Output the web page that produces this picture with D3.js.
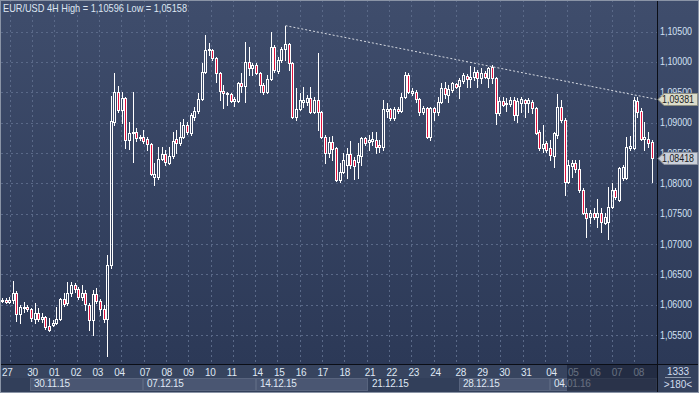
<!DOCTYPE html>
<html><head><meta charset="utf-8">
<script src="https://cdn.jsdelivr.net/npm/d3@7"></script>
<style>
html,body{margin:0;padding:0;background:#2f3c58;overflow:hidden}
svg{display:block}
text{font-family:"Liberation Sans",Arial,sans-serif}
</style>
</head><body>
<svg id="c" width="699" height="393"></svg>
<script>
// ---- data (EUR/USD 4H, 27.11.2015 - 08.01.2016) ----
const opens=[
1.0607,1.0608,1.0604,1.0608,1.0619,1.0585,1.0594,1.0596,1.0593,1.0576,
1.0586,1.0576,1.0579,1.0565,1.0567,1.0570,1.0576,1.0609,1.0603,1.0619,
1.0633,1.0626,1.0613,1.0619,1.0600,1.0575,1.0618,1.0606,1.0593,1.0576,
1.0665,1.0901,1.0950,1.0921,1.0940,1.0871,1.0883,1.0885,1.0875,1.0876,
1.0873,1.0865,1.0810,1.0810,1.0840,1.0848,1.0833,1.0845,1.0873,1.0866,
1.0876,1.0896,1.0883,1.0909,1.0919,1.0939,1.0983,1.1021,1.1020,1.1006,
1.0982,1.0952,1.0947,1.0947,1.0936,1.0936,1.0965,1.0960,1.1000,1.0990,
1.0995,1.0982,1.0962,1.0950,1.0972,1.1024,1.0985,1.1003,1.1021,1.1029,
1.0998,1.0909,1.0922,1.0934,1.0934,1.0940,1.0917,1.0937,1.0917,1.0876,
1.0850,1.0868,1.0858,1.0805,1.0819,1.0830,1.0848,1.0838,1.0835,1.0845,
1.0875,1.0868,1.0870,1.0871,1.0863,1.0860,1.0919,1.0922,1.0908,1.0922,
1.0919,1.0942,1.0978,1.0949,1.0950,1.0939,1.0917,1.0924,1.0876,1.0924,
1.0917,1.0934,1.0957,1.0945,1.0954,1.0964,1.0960,1.0969,1.0977,1.0972,
1.0975,1.0983,1.0973,1.0982,1.0973,1.0992,1.0973,1.0916,1.0936,1.0931,
1.0931,1.0937,1.0912,1.0932,1.0937,1.0932,1.0934,1.0924,1.0885,1.0858,
1.0866,1.0858,1.0845,1.0880,1.0926,1.0904,1.0802,1.0828,1.0833,1.0824,
1.0789,1.0751,1.0744,1.0751,1.0744,1.0751,1.0735,1.0736,1.0761,1.0789,
1.0772,1.0809,1.0809,1.0858,1.0858,1.0936,1.0919,1.0873,1.0873,1.0868];
const highs=[
1.0611,1.0611,1.0613,1.0639,1.0623,1.0600,1.0604,1.0600,1.0595,1.0603,
1.0595,1.0586,1.0582,1.0578,1.0575,1.0596,1.0611,1.0619,1.0637,1.0637,
1.0636,1.0629,1.0633,1.0624,1.0603,1.0624,1.0628,1.0609,1.0600,1.0682,
1.0944,1.0982,1.0960,1.0950,1.0942,1.0901,1.0950,1.0891,1.0880,1.0888,
1.0876,1.0866,1.0833,1.0860,1.0860,1.0855,1.0860,1.0885,1.0888,1.0901,
1.0906,1.0901,1.0916,1.0926,1.0949,1.0998,1.1044,1.1031,1.1021,1.1008,
1.0983,1.0962,1.0950,1.0949,1.0942,1.0967,1.0982,1.1033,1.1024,1.0998,
1.0998,1.0983,1.0965,1.0978,1.1049,1.1028,1.1008,1.1024,1.10596,1.1031,
1.1000,1.0957,1.0949,1.0959,1.0945,1.0959,1.0942,1.1015,1.0919,1.0880,
1.0876,1.0878,1.0860,1.0833,1.0850,1.0858,1.0870,1.0843,1.0866,1.0876,
1.0876,1.0880,1.0885,1.0885,1.0871,1.0937,1.0932,1.0924,1.0926,1.0926,
1.0949,1.0983,1.0982,1.0957,1.0954,1.0940,1.0927,1.0926,1.0926,1.0926,
1.0942,1.0965,1.0967,1.0962,1.0967,1.0965,1.0973,1.0982,1.0980,1.0993,
1.0992,1.0987,1.0990,1.0985,1.0992,1.0995,1.0975,1.0942,1.0942,1.0940,
1.0942,1.0942,1.0940,1.0942,1.0939,1.0940,1.0937,1.0926,1.0888,1.0896,
1.0870,1.0871,1.0885,1.0947,1.0937,1.0908,1.0838,1.0838,1.0838,1.0838,
1.0792,1.0759,1.0756,1.0759,1.0774,1.0759,1.0751,1.0794,1.0800,1.0792,
1.0827,1.0830,1.0876,1.0878,1.0942,1.0942,1.0924,1.0901,1.0885,1.0871];
const lows=[
1.0604,1.0603,1.0603,1.0603,1.0573,1.0570,1.0588,1.0590,1.0573,1.0570,
1.0573,1.0572,1.0560,1.0557,1.0565,1.0568,1.0575,1.0598,1.0600,1.0614,
1.0621,1.0609,1.0608,1.0591,1.0558,1.0550,1.0603,1.0583,1.0572,1.05158,
1.0660,1.0896,1.0917,1.0899,1.0858,1.0856,1.0835,1.0870,1.0871,1.0866,
1.0855,1.0814,1.0797,1.0807,1.0838,1.0830,1.0832,1.0842,1.0850,1.0863,
1.0875,1.0881,1.0880,1.0904,1.0916,1.0937,1.0982,1.1011,1.1003,1.0967,
1.0937,1.0924,1.0929,1.0934,1.0927,1.0934,1.0950,1.0934,1.0978,1.0978,
1.0980,1.0950,1.0947,1.0949,1.0970,1.0983,1.0982,1.1000,1.1003,1.0987,
1.0908,1.0904,1.0921,1.0926,1.0929,1.0916,1.0916,1.0888,1.0875,1.0833,
1.0843,1.0838,1.0804,1.0802,1.0817,1.0809,1.0825,1.0807,1.0809,1.0830,
1.0863,1.0855,1.0863,1.0850,1.0852,1.0855,1.0909,1.0904,1.0904,1.0916,
1.0917,1.0940,1.0949,1.0945,1.0934,1.0912,1.0914,1.0875,1.0871,1.0904,
1.0912,1.0932,1.0940,1.0934,1.0950,1.0957,1.0940,1.0965,1.0959,1.0959,
1.0970,1.0959,1.0965,1.0973,1.0959,1.0965,1.0898,1.0912,1.0927,1.0919,
1.0927,1.0904,1.0901,1.0917,1.0909,1.0917,1.0916,1.0881,1.0855,1.0852,
1.0852,1.0838,1.0827,1.0875,1.0901,1.0781,1.0800,1.0810,1.0819,1.0786,
1.0749,1.0712,1.0735,1.0741,1.0728,1.0720,1.0733,1.0708,1.0759,1.0774,
1.0771,1.0805,1.0807,1.0855,1.0856,1.0909,1.0871,1.0855,1.0860,1.0802];
const closes=[
1.0608,1.0604,1.0608,1.0619,1.0585,1.0596,1.0596,1.0593,1.0578,1.0586,
1.0576,1.0580,1.0563,1.0558,1.0570,1.0576,1.0609,1.0601,1.0619,1.0633,
1.0626,1.0613,1.0619,1.0601,1.0575,1.0618,1.0606,1.0593,1.0576,1.0665,
1.0903,1.0950,1.0921,1.0940,1.0871,1.0883,1.0885,1.0875,1.0876,1.0870,
1.0865,1.0815,1.0815,1.0840,1.0848,1.0835,1.0845,1.0870,1.0866,1.0876,
1.0896,1.0885,1.0912,1.0919,1.0939,1.0983,1.1020,1.1020,1.1006,1.0982,
1.0952,1.0949,1.0949,1.0936,1.0939,1.0965,1.0960,1.1000,1.0990,1.0995,
1.0982,1.0962,1.0950,1.0972,1.1024,1.0987,1.1003,1.1021,1.1029,1.0998,
1.0909,1.0922,1.0937,1.0937,1.0940,1.0917,1.0937,1.0917,1.0876,1.0850,
1.0868,1.0856,1.0805,1.0819,1.0838,1.0848,1.0830,1.0828,1.0847,1.0875,
1.0866,1.0871,1.0873,1.0860,1.0860,1.0922,1.0922,1.0908,1.0922,1.0919,
1.0942,1.0978,1.0950,1.0952,1.0939,1.0917,1.0924,1.0876,1.0924,1.0917,
1.0934,1.0957,1.0947,1.0955,1.0965,1.0959,1.0970,1.0978,1.0972,1.0975,
1.0983,1.0973,1.0982,1.0975,1.0990,1.0973,1.0916,1.0936,1.0929,1.0932,
1.0937,1.0912,1.0936,1.0939,1.0932,1.0937,1.0924,1.0883,1.0858,1.0865,
1.0855,1.0847,1.0883,1.0926,1.0904,1.0802,1.0830,1.0833,1.0824,1.0789,
1.0751,1.0743,1.0751,1.0744,1.0751,1.0736,1.0744,1.0761,1.0789,1.0777,
1.0825,1.0827,1.0860,1.0861,1.0937,1.0917,1.0873,1.0876,1.0866,1.08418];

const dayLabels=["27","30","01","02","03","04","07","08","09","10","11","14","15","16","17","18","21","22","23","24","28","29","30","31","04","05","06","07","08"];
const dayStarts=[0,7,13,19,25,31,38,44,50,56,62,69,75,81,87,93,100,106,112,118,125,131,137,143,150,156,162,168,174];
const weekLabels=["30.11.15","07.12.15","14.12.15","21.12.15","28.12.15","04.01.16"];
const weekStarts=[7,38,69,100,125,150];
const weekShaded=[true,true,true,false,true,true];
const priceTicks=[1.055,1.060,1.065,1.070,1.075,1.080,1.085,1.090,1.095,1.100,1.105];
const title="EUR/USD 4H High = 1,10596 Low = 1,05158";
const trendStart={i:78,price:1.10596};
const trendEndPrice=1.09381;
const lastPrice=1.08418;
const barsTotal="1333", barsShown=">180<";
const selectionStartDay=25; // index into dayStarts (05.01)

// ---- layout ----
const svg=d3.select("#c");
const PR=657, PB=364;
const n=opens.length;
const x=d3.scaleLinear().domain([0,n-1]).range([2.4,652.2]);
const y=d3.scaleLinear().domain([1.055,1.105]).range([335,31.5]);
const fmt=v=>d3.format(".5f")(v).replace(".",",");

const defs=svg.append("defs");
const gr=defs.append("linearGradient").attr("id","pg").attr("x1",0).attr("y1",0).attr("x2",0).attr("y2",1);
gr.append("stop").attr("offset","0%").attr("stop-color","#3f4d6c");
gr.append("stop").attr("offset","100%").attr("stop-color","#2c3957");
defs.append("clipPath").attr("id","clip").append("rect").attr("x",1).attr("y",0).attr("width",PR-1).attr("height",PB);

svg.append("rect").attr("width",699).attr("height",393).attr("fill","#2f3c58");
svg.append("rect").attr("x",0).attr("y",0).attr("width",PR).attr("height",PB).attr("fill","url(#pg)");
svg.append("rect").attr("x",PR+1).attr("y",0).attr("width",699-PR-1).attr("height",PB).attr("fill","url(#pg)");

// grid
const grid=svg.append("g").attr("stroke","#5a6988").attr("stroke-width",1).attr("stroke-dasharray","2,3");
priceTicks.forEach(t=>{
  const yy=Math.round(y(t))+0.5;
  grid.append("line").attr("x1",1).attr("x2",PR).attr("y1",yy).attr("y2",yy);
});
d3.range(29).forEach(k=>{
  const xx=Math.round(9.8+k*22.3)+0.5;
  grid.append("line").attr("x1",xx).attr("x2",xx).attr("y1",0).attr("y2",PB);
});

// candles
const cg=svg.append("g").attr("clip-path","url(#clip)");
d3.range(n).forEach(i=>{
  const o=opens[i],h=highs[i],l=lows[i],c=closes[i];
  const up=c>=o;
  const lx=Math.round(x(i)-1.5);
  const top=Math.round(y(Math.max(o,c)));
  let bot=Math.round(y(Math.min(o,c)));
  if(bot-top<1) bot=top+1;
  const yh=Math.round(y(h)), yl=Math.round(y(l));
  const wx=lx+1.5;
  if(yh<top) cg.append("line").attr("x1",wx).attr("x2",wx).attr("y1",yh).attr("y2",top).attr("stroke","#ffffff");
  if(yl>bot) cg.append("line").attr("x1",wx).attr("x2",wx).attr("y1",bot+1).attr("y2",yl+1).attr("stroke","#ffffff");
  cg.append("rect").attr("x",lx+0.5).attr("y",top+0.5).attr("width",2).attr("height",bot-top)
    .attr("fill",up?"none":"#e3123e").attr("stroke","#ffffff").attr("stroke-width",1);
});

// trend line
cg.append("line").attr("x1",x(trendStart.i)).attr("y1",y(trendStart.price))
  .attr("x2",PR).attr("y2",y(trendEndPrice))
  .attr("stroke","#d4d8e0").attr("stroke-width",1).attr("stroke-dasharray","2,2");

// separators
svg.append("line").attr("x1",PR+0.5).attr("x2",PR+0.5).attr("y1",0).attr("y2",393).attr("stroke","#0b0e16");
svg.append("line").attr("x1",0).attr("x2",699).attr("y1",PB+0.5).attr("y2",PB+0.5).attr("stroke","#0b0e16");

// y labels
const yl=svg.append("g");
priceTicks.forEach(t=>{
  yl.append("text").attr("x",660).attr("y",y(t)+3.6).attr("font-size",10).attr("fill","#d2e0f4")
    .attr("textLength",32).attr("lengthAdjust","spacingAndGlyphs").text(fmt(t));
});

// price markers
function marker(v,fill,stroke){
  const cy=Math.round(y(v))+0.5;
  const pts=[[PR+1,cy],[PR+7,cy-6],[697.5,cy-6],[697.5,cy+6],[PR+7,cy+6]];
  svg.append("polygon").attr("points",pts.map(p=>p.join(",")).join(" ")).attr("fill",fill).attr("stroke",stroke);
  svg.append("text").attr("x",662).attr("y",cy+3.6).attr("font-size",10).attr("fill","#1a1c22")
    .attr("textLength",32).attr("lengthAdjust","spacingAndGlyphs").text(fmt(v));
}
marker(trendEndPrice,"#dcdccb","#8d8f82");
marker(lastPrice,"#cbd0da","#8a909e");

// bottom axis
svg.append("rect").attr("x",1).attr("y",PB+1).attr("width",PR-1).attr("height",13).attr("fill","#37445f");
svg.append("rect").attr("x",1).attr("y",PB+14).attr("width",PR-1).attr("height",14).attr("fill","#323f5a");
svg.append("rect").attr("x",PR+1).attr("y",PB+1).attr("width",699-PR-1).attr("height",393-PB-1).attr("fill","#34415d");
const bx=weekStarts.map(s=>x(s+1)-1);
weekStarts.forEach((s,k)=>{
  const x0=Math.round(bx[k]);
  const x1=k<weekStarts.length-1?Math.round(bx[k+1]):PR;
  if(weekShaded[k]) svg.append("rect").attr("x",x0+0.5).attr("y",PB+14.5).attr("width",x1-x0-1).attr("height",12)
    .attr("fill","#4a5672").attr("stroke","#58647e");
  svg.append("text").attr("x",x0+4).attr("y",387).attr("font-size",10).attr("fill","#dfe7f3")
    .attr("letter-spacing",-0.3).text(weekLabels[k]);
});
dayStarts.forEach((s,k)=>{
  svg.append("text").attr("x",Math.max(2,x(s)-0.6)).attr("y",375.5).attr("font-size",10).attr("fill","#dfe7f3")
    .attr("letter-spacing",-0.3).text(dayLabels[k]);
});
const sx=Math.round(x(dayStarts[selectionStartDay])-2);
svg.append("rect").attr("x",sx).attr("y",PB+1).attr("width",PR-sx).attr("height",26).attr("fill","#161d30").attr("opacity",0.6);

// corner
svg.append("text").attr("x",678).attr("y",375).attr("text-anchor","middle").attr("font-size",10).attr("fill","#d2ddee").text(barsTotal);
svg.append("line").attr("x1",665).attr("x2",691).attr("y1",377.5).attr("y2",377.5).attr("stroke","#8c97aa");
svg.append("text").attr("x",678).attr("y",387.5).attr("text-anchor","middle").attr("font-size",10).attr("fill","#d2ddee").text(barsShown);

// frame
svg.append("rect").attr("x",0.5).attr("y",0.5).attr("width",698).attr("height",392).attr("fill","none").attr("stroke","#8a94a6");

// title
svg.append("text").attr("x",3).attr("y",12).attr("font-size",11).attr("fill","#dde6f2")
  .attr("textLength",184).attr("lengthAdjust","spacingAndGlyphs").text(title);
</script>
</body></html>
